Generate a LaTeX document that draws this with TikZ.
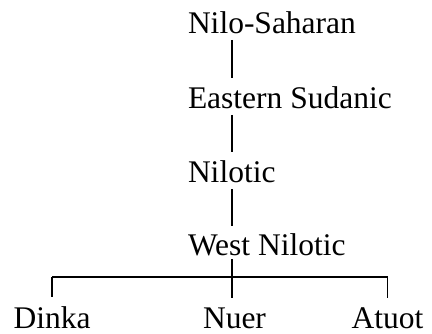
\documentclass[tikz,border=0pt]{standalone}
\usepackage{fontspec}
\setmainfont{Liberation Serif}
\usetikzlibrary{calc}
\begin{document}
\begin{tikzpicture}[x=1bp,y=-1bp,
  lab/.style={inner sep=0pt, outer sep=0pt, font=\fontsize{31.5bp}{36bp}\selectfont},
  edge/.style={line width=1.3bp, line cap=butt}]
\useasboundingbox (0,0) rectangle (432,334);
\coordinate (trunk) at (232,0);
\node[lab, anchor=base west] (ns) at (188,33) {Nilo-Saharan};
\node[lab, anchor=base west] (es) at (188,108) {Eastern Sudanic};
\node[lab, anchor=base west] (nl) at (188,182.5) {Nilotic};
\node[lab, anchor=base west] (wn) at (188,255) {West Nilotic};
\node[lab, anchor=base] (dinka) at (52,328) {Dinka};
\node[lab, anchor=base] (nuer) at (234.5,328) {Nuer};
\node[lab, anchor=base] (atuot) at (387.5,328) {Atuot};
\coordinate (bar) at (0,277);
\draw[edge] ($(ns.south -| trunk)+(0,6.5)$) -- ($(es.north -| trunk)+(0,-8.5)$);
\draw[edge] ($(es.south -| trunk)+(0,6.5)$) -- ($(nl.north -| trunk)+(0,-8.5)$);
\draw[edge] ($(nl.south -| trunk)+(0,6.5)$) -- ($(wn.north -| trunk)+(0,-7.5)$);
\draw[edge] ($(wn.south -| trunk)+(0,4)$) -- ($(nuer.north -| trunk)+(0,-9)$);
\draw[edge] (dinka.north |- bar) -- ($(dinka.north)+(0,-9)$);
\draw[edge] (atuot.north |- bar) -- ($(atuot.north)+(0,-9)$);
\draw[edge] (dinka.north |- bar) -- (atuot.north |- bar);
\end{tikzpicture}
\end{document}
